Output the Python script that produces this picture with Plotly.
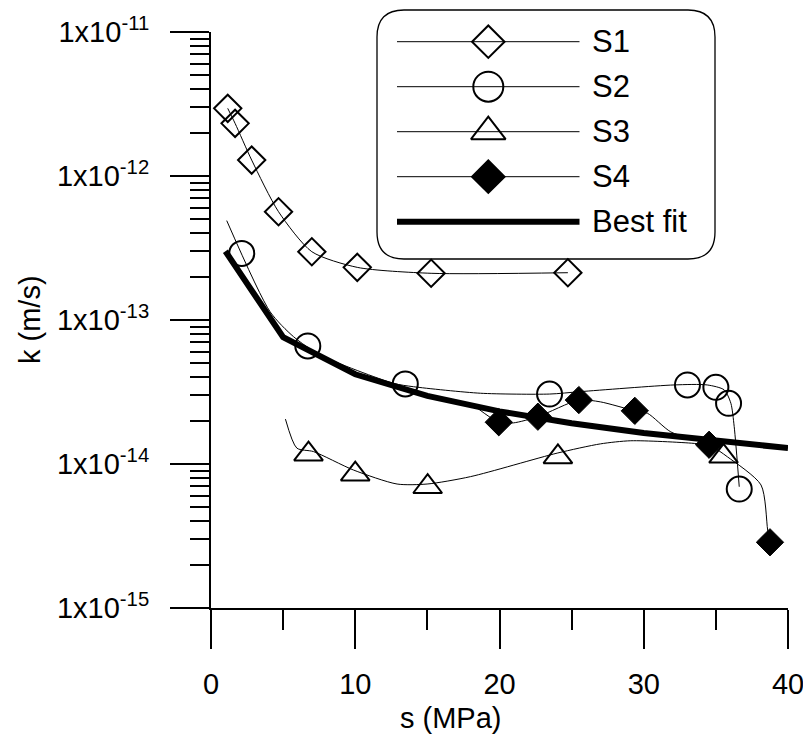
import plotly.graph_objects as go

# ---------------- data ----------------
s1_s = [1.16, 1.67, 2.82, 4.68, 6.99, 10.14, 15.26, 24.74]
s1_k = [2.95e-12, 2.32e-12, 1.29e-12, 5.65e-13, 2.98e-13, 2.32e-13, 2.11e-13, 2.13e-13]

s2_s = [2.13, 6.71, 13.47, 23.47, 33.03, 35.0, 35.88, 36.62]
s2_k = [2.9e-13, 6.6e-14, 3.6e-14, 3.06e-14, 3.54e-14, 3.41e-14, 2.64e-14, 6.7e-15]

s3_s = [6.76, 10.0, 15.02, 24.05, 35.53]
s3_k = [1.17e-14, 8.5e-15, 6.95e-15, 1.12e-14, 1.13e-14]

s4_s = [19.95, 22.66, 25.5, 29.38, 34.53, 38.75]
s4_k = [1.95e-14, 2.13e-14, 2.78e-14, 2.34e-14, 1.36e-14, 2.86e-15]

# smoothed curves drawn through each series
s1_curve_s = [1.16, 1.67, 2.82, 4.68, 6.99, 10.14, 15.26, 24.74]
s1_curve_k = [2.95e-12, 2.32e-12, 1.29e-12, 5.65e-13, 2.98e-13, 2.32e-13, 2.11e-13, 2.13e-13]

s2_curve_s = [1.09, 4.10, 5.72, 7.57, 12.66, 14.05, 18.68, 23.47, 25.6, 32.1, 34.4, 35.58, 36.04, 36.27, 36.62]
s2_curve_k = [4.9e-13, 1.14e-13, 7.66e-14, 5.71e-14, 3.63e-14, 3.44e-14, 3.1e-14, 3.06e-14, 3.18e-14,
              3.54e-14, 3.54e-14, 3.27e-14, 2.64e-14, 1.82e-14, 6.95e-15]

s3_curve_s = [5.16, 5.95, 7.1, 9.88, 12.9, 14.98, 17.99, 24.0, 27.0, 29.1, 33.5, 35.35]
s3_curve_k = [2.05e-14, 1.29e-14, 1.22e-14, 9.08e-15, 7.26e-15, 7.26e-15, 8.17e-15, 1.19e-14,
              1.38e-14, 1.45e-14, 1.39e-14, 1.31e-14]

s4_curve_s = [18.45, 19.95, 20.97, 22.66, 25.5, 27.0, 29.38, 30.26, 31.88, 34.53, 35.81, 38.13, 38.59, 38.75]
s4_curve_k = [2.45e-14, 1.95e-14, 1.93e-14, 2.13e-14, 2.78e-14, 2.70e-14, 2.34e-14, 2.25e-14,
              1.67e-14, 1.36e-14, 1.12e-14, 7.15e-15, 3.48e-15, 2.86e-15]

fit_s = [1, 5, 10, 15, 20, 25, 30, 35, 40]
fit_k = [3.0e-13, 7.6e-14, 4.2e-14, 2.97e-14, 2.32e-14, 1.92e-14, 1.64e-14, 1.44e-14, 1.29e-14]

legend_names = ["S1", "S2", "S3", "S4", "Best fit"]
y_tick_vals = [1e-15, 1e-14, 1e-13, 1e-12, 1e-11]
y_tick_text = ["1x10<sup>-15</sup>", "1x10<sup>-14</sup>", "1x10<sup>-13</sup>",
               "1x10<sup>-12</sup>", "1x10<sup>-11</sup>"]
x_tick_vals = [0, 10, 20, 30, 40]

# ---------------- geometry (window pixels; page body has an 8px margin) ----------------
OFF = 8
W, H = 803, 727
PL, PR, PT, PB = 211, 788, 32, 608          # plot area in window pixels
L, T = PL - OFF, PT - OFF
R = W - (PR - OFF)
B = H - (PB - OFF)
PW, PH = PR - PL, PB - PT
FONT = "Arial, Liberation Sans, sans-serif"
FS = 29
LFS = 31


def px(xp):
    return (xp - PL) / PW


def py(yp):
    return (PB - yp) / PH


fig = go.Figure()

thin = dict(color="black", width=1, shape="spline", smoothing=0.7)
for cs, ck in [(s1_curve_s, s1_curve_k), (s2_curve_s, s2_curve_k),
               (s3_curve_s, s3_curve_k), (s4_curve_s, s4_curve_k)]:
    fig.add_trace(go.Scatter(x=cs, y=ck, mode="lines", line=thin, showlegend=False, hoverinfo="skip"))

fig.add_trace(go.Scatter(x=fit_s, y=fit_k, mode="lines", line=dict(color="black", width=6),
                         showlegend=False, name="Best fit"))

mk_line = dict(color="black", width=2)
styles = [
    dict(symbol="diamond-open", size=21, color="black", line=mk_line),
    dict(symbol="circle-open", size=25, color="black", line=mk_line),
    dict(symbol="triangle-up-open", size=25, color="black", line=mk_line),
    dict(symbol="diamond", size=21, color="black", line=dict(color="black", width=1)),
]
for (xs, ks), st, nm in zip([(s1_s, s1_k), (s2_s, s2_k), (s3_s, s3_k), (s4_s, s4_k)], styles, legend_names):
    fig.add_trace(go.Scatter(x=xs, y=ks, mode="markers", marker=dict(opacity=1, **st), name=nm,
                             showlegend=False, cliponaxis=False))

# ---------------- custom legend ----------------
box_l, box_r, box_t, box_b, rad = 377, 715, 10, 259, 27
xl, xr = px(box_l), px(box_r)
yt, yb = py(box_t), py(box_b)
rx, ry = rad / PW, rad / PH
path = (f"M {xl+rx},{yt} L {xr-rx},{yt} Q {xr},{yt} {xr},{yt-ry} "
        f"L {xr},{yb+ry} Q {xr},{yb} {xr-rx},{yb} "
        f"L {xl+rx},{yb} Q {xl},{yb} {xl},{yb+ry} "
        f"L {xl},{yt-ry} Q {xl},{yt} {xl+rx},{yt} Z")
fig.add_shape(type="path", path=path, xref="paper", yref="paper",
              line=dict(color="black", width=1.3), fillcolor="white", layer="below")

rows = [41.7, 86.7, 131.7, 176.7, 221.7]
for i, (nm, r) in enumerate(zip(legend_names, rows)):
    lw = 6 if i == 4 else 1
    fig.add_shape(type="line", xref="paper", yref="paper", x0=px(397), x1=px(579.5),
                  y0=py(r), y1=py(r), line=dict(color="black", width=lw), layer="below")
    fig.add_annotation(text=nm, xref="paper", yref="paper", x=px(590), y=py(r),
                       xanchor="left", yanchor="middle", showarrow=False,
                       font=dict(family=FONT, size=LFS, color="black"))

legend_sizes = [25, 30, 30, 25]
fig.add_trace(go.Scatter(
    x=[px(488.3)] * 4, y=[py(r) for r in rows[:4]], mode="markers",
    marker=dict(symbol=[s["symbol"] for s in styles], size=legend_sizes,
                color="black", opacity=1, line=dict(color="black", width=2)),
    xaxis="x2", yaxis="y2", showlegend=False, cliponaxis=False, hoverinfo="skip"))

# ---------------- axis titles ----------------
fig.add_annotation(text="k (m/s)", xref="paper", yref="paper", x=px(30), y=py(320),
                   textangle=-90, showarrow=False, xanchor="center", yanchor="middle",
                   font=dict(family=FONT, size=FS, color="black"))
fig.add_annotation(text="s (MPa)", xref="paper", yref="paper", x=px(451), y=py(718),
                   showarrow=False, xanchor="center", yanchor="middle",
                   font=dict(family=FONT, size=FS, color="black"))

axis_common = dict(showline=True, linecolor="black", linewidth=2, ticks="outside",
                   ticklen=39, tickwidth=2, tickcolor="black", showgrid=False, zeroline=False,
                   tickfont=dict(family=FONT, size=FS, color="black"))

fig.update_layout(
    width=W, height=H, margin=dict(l=L, r=R, t=T, b=B, autoexpand=False),
    paper_bgcolor="white", plot_bgcolor="white", showlegend=False,
    font=dict(family=FONT, color="black"),
    xaxis=dict(range=[0, 40], tickvals=x_tick_vals, ticklabelstandoff=10,
               minor=dict(dtick=5, tick0=0, ticks="outside", ticklen=20, tickwidth=2, tickcolor="black"),
               **axis_common),
    yaxis=dict(type="log", range=[-15, -11], tickvals=y_tick_vals, ticktext=y_tick_text,
               ticklabelstandoff=15,
               minor=dict(tickvals=[m * 10.0 ** e for e in range(-15, -11) for m in range(2, 10)],
                          ticks="outside", ticklen=19, tickwidth=2, tickcolor="black"),
               **axis_common),
    xaxis2=dict(range=[0, 1], overlaying="x", visible=False),
    yaxis2=dict(range=[0, 1], overlaying="y", visible=False),
)

fig.write_html("out.html")
